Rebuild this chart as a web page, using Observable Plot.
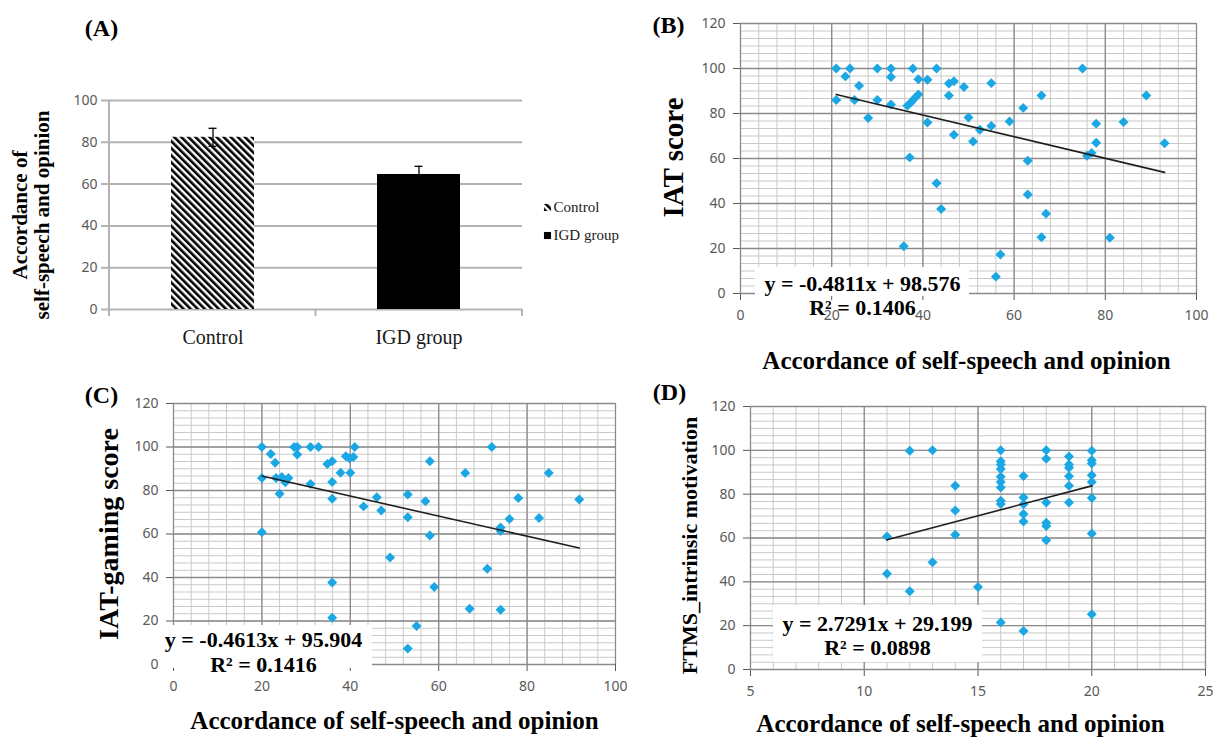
<!DOCTYPE html>
<html>
<head>
<meta charset="utf-8">
<script src="https://cdn.jsdelivr.net/npm/d3@7"></script>
<script src="https://cdn.jsdelivr.net/npm/@observablehq/plot@0.6"></script>
<style>
  html, body { margin: 0; padding: 0; background: #fff; }
  #wrap { position: relative; width: 1219px; height: 740px; overflow: hidden; background: #fff; }
  .panel { position: absolute; }
  .panel svg { display: block; overflow: visible; background: transparent; max-width: none; }
</style>
</head>
<body>
<div id="wrap"></div>
<script>
// ---------------- Panel A : bar chart ----------------
const groups = ["Control", "IGD group"];
const groupMeans = [82.4, 64.6];
const groupErrors = [4.3, 3.9];
const axisTicksA = [0, 20, 40, 60, 80, 100];

// ---------------- Panel B : IAT score ----------------
const bX = [21,21,23,24,25,26,28,30,30,33,33,33,35.8,37.1,36.6,37.4,38.2,39,37.8,39,41,41,43,43,44,45.7,45.7,46.8,46.8,49,50,51,52.5,55,55,56,57,59,62,63,63,66,66,67,75,76,77,78,78,81,84,89,93];
const bY = [100,86,96.5,100,86,92.3,78,100,86,100,96.2,84,21,60.5,83.5,85,86.8,88.5,100,95.2,95,76,49,100,37.6,93.3,88,94.3,70.6,91.8,78.2,67.6,72.8,93.5,74.5,7.5,17.3,76.5,82.5,59,44,88,25,35.5,100,61.2,62.5,75.5,67,24.8,76.2,88,66.8];
const bFit = {slope: -0.4811, intercept: 98.576, r2: 0.1406};

// ---------------- Panel C : IAT-gaming score ----------------
const cX = [20,20,20,22,23,23.2,24,24.5,25.3,26,27.3,28,28,31,31,32.8,34.8,35.9,35.9,35.9,35.9,35.9,37.8,39,39.8,40,40.7,41,43,46,47,49,53,53,53,55,57,58,58,59,66,67,71,72,74,74,74,76,78,82.7,84.9,91.8];
const cY = [100,85.8,60.8,96.8,92.8,85.8,78.5,86.2,83.8,85.8,100,100,96.6,100,83,100,92.2,93.4,83.9,76.2,37.7,21.5,88.2,95.8,94.8,88.2,95.4,100,72.7,76.9,70.8,49.2,78.2,67.7,7.3,17.7,75.1,93.4,59.3,35.6,88,25.6,44,100,63,61.4,25.2,66.9,76.5,67.4,88,75.9];
const cFit = {slope: -0.4613, intercept: 95.904, r2: 0.1416};

// ---------------- Panel D : FTMS intrinsic motivation ----------------
const dX = [11,11,12,12,13,13,14,14,14,15,16,16,16,16,16,16,16,16,16,16,17,17,17,17,17,17,18,18,18,18,18,18,19,19,19,19,19,19,20,20,20,20,20,20,20,20];
const dY = [60.7,43.7,99.8,35.7,100,48.9,83.8,72.5,61.5,37.6,100,95,93.5,91.5,88,85.5,83,77,75.5,21.5,88.3,78.5,75.4,71,67.5,17.6,100,96.2,76.2,67,65.5,59,97.2,93.5,92,88.2,83.8,76.2,99.8,95.5,94,88.6,85.6,78.2,62.1,25.2];
const dFit = {slope: 2.7291, intercept: 29.199, r2: 0.0898};

const xTitle = "Accordance of self-speech and opinion";
const yTicksScatter = [0, 20, 40, 60, 80, 100, 120];

// ---------------- styling ----------------
const SERIF = "'Liberation Serif','Times New Roman',serif";
const SANS = "'Noto Sans','Liberation Sans',Arial,sans-serif";
const DOT = "#1ba7e4";
const MINOR = "#c9c9c9";
const MAJOR = "#8a8a8a";
const TICKCOL = "#595959";
const CENTER = {textAnchor: "middle", lineAnchor: "middle"};

const wrap = document.getElementById("wrap");
function place(svg, left, top) {
  const d = document.createElement("div");
  d.className = "panel";
  d.style.left = left + "px";
  d.style.top = top + "px";
  d.appendChild(svg);
  wrap.appendChild(d);
}

// ---------------- Panel A ----------------
(function () {
  const W = 620, H = 370;
  const m = {left: 109, right: 98, top: 100, bottom: 61};
  const step = (W - m.left - m.right) / groups.length;
  const bars = groups.map((g, i) => ({group: g, mean: groupMeans[i], err: groupErrors[i]}));
  const defs = () => {
    const d = d3.create("svg:defs");
    const p = d.append("pattern").attr("id", "hatchA").attr("patternUnits", "userSpaceOnUse")
      .attr("width", 5).attr("height", 5).attr("patternTransform", "rotate(-45)");
    p.append("rect").attr("width", 5).attr("height", 5).attr("fill", "white");
    p.append("rect").attr("width", 2.6).attr("height", 5).attr("fill", "black");
    return d.node();
  };
  const axisBits = () => {
    const g = d3.create("svg:g").attr("stroke", "#b3b3b3").attr("stroke-width", 2);
    g.append("line").attr("x1", m.left).attr("x2", m.left).attr("y1", m.top).attr("y2", H - m.bottom + 7);
    for (let i = 1; i <= groups.length; i++) {
      const x = m.left + i * step;
      g.append("line").attr("x1", x).attr("x2", x).attr("y1", H - m.bottom).attr("y2", H - m.bottom + 7);
    }
    return g.node();
  };
  const svg = Plot.plot({
    width: W, height: H,
    marginLeft: m.left, marginRight: m.right, marginTop: m.top, marginBottom: m.bottom,
    style: {fontFamily: SANS, fontSize: "14px", color: TICKCOL, background: "transparent", overflow: "visible"},
    x: {domain: groups, paddingInner: 0.598, paddingOuter: 0.299, axis: null},
    y: {domain: [0, 100], ticks: 5, tickSize: 0, tickPadding: 12, label: null},
    marks: [
      defs,
      Plot.ruleY(axisTicksA, {stroke: "#b3b3b3", strokeWidth: 2, insetLeft: -8}),
      axisBits,
      Plot.barY(bars.filter(d => d.group === groups[0]), {x: "group", y: "mean", fill: "url(#hatchA)"}),
      Plot.barY(bars.filter(d => d.group === groups[1]), {x: "group", y: "mean", fill: "black"}),
      Plot.ruleX(bars, {x: "group", y1: d => d.mean - d.err, y2: d => d.mean + d.err, stroke: "black", strokeWidth: 1.3}),
      Plot.tickY(bars, {x: "group", y: d => d.mean + d.err, stroke: "black", strokeWidth: 1.3, insetLeft: 37.5, insetRight: 37.5}),
      Plot.tickY(bars, {x: "group", y: d => d.mean - d.err, stroke: "black", strokeWidth: 1.3, insetLeft: 37.5, insetRight: 37.5}),
      Plot.text(groups, {x: d => d, text: d => d, frameAnchor: "bottom", dy: 28, ...CENTER, fontFamily: SERIF, fontSize: 20, fill: "#1a1a1a"}),
      Plot.text(["(A)"], {text: d => d, frameAnchor: "top-left", dx: -8, dy: -72, ...CENTER, fontFamily: SERIF, fontWeight: "bold", fontSize: 24, fill: "black"}),
      Plot.text(["Accordance of\nself-speech and opinion"], {text: d => d, frameAnchor: "left", dx: -79, dy: 10, rotate: -90, ...CENTER, lineHeight: 1.05, fontFamily: SERIF, fontWeight: "bold", fontSize: 21, fill: "black"}),
      Plot.dot([groups[0]], {frameAnchor: "right", dx: 25, dy: 2.5, symbol: "square", r: 4, fill: "url(#hatchA)"}),
      Plot.dot([groups[1]], {frameAnchor: "right", dx: 25, dy: 30.5, symbol: "square", r: 4, fill: "black"}),
      Plot.text([groups[0]], {text: d => d, frameAnchor: "right", dx: 31, dy: 2.5, textAnchor: "start", lineAnchor: "middle", fontFamily: SERIF, fontSize: 15, fill: "#1a1a1a"}),
      Plot.text([groups[1]], {text: d => d, frameAnchor: "right", dx: 31, dy: 30.5, textAnchor: "start", lineAnchor: "middle", fontFamily: SERIF, fontSize: 15, fill: "#1a1a1a"})
    ]
  });
  place(svg, 0, 0);
})();

// ---------------- Scatter panels ----------------
function scatterPanel(cfg) {
  const m = cfg.margin;
  const pts = cfg.xs.map((x, i) => ({x, y: cfg.ys[i]}));
  const [xa, xb] = d3.extent(cfg.xs);
  const trend = [xa, xb].map(x => ({x, y: cfg.fit.slope * x + cfg.fit.intercept}));
  const xMinor = d3.range(cfg.xDomain[0], cfg.xDomain[1] + 1e-9, cfg.xMinorStep);
  const yMinor = d3.range(0, 120 + 1e-9, 20 / 6);
  const eq = `y = ${cfg.fit.slope}x + ${cfg.fit.intercept}\nR² = ${cfg.fit.r2}`;
  const box = () => d3.create("svg:rect")
    .attr("x", m.left + cfg.box.x).attr("y", cfg.height - m.bottom + cfg.box.y)
    .attr("width", cfg.box.w).attr("height", cfg.box.h).attr("fill", "white").node();
  const svg = Plot.plot({
    width: cfg.width, height: cfg.height,
    marginLeft: m.left, marginRight: m.right, marginTop: m.top, marginBottom: m.bottom,
    style: {fontFamily: SANS, fontSize: "14px", color: TICKCOL, background: "transparent", overflow: "visible"},
    x: {domain: cfg.xDomain, ticks: cfg.xTickCount, tickSize: 7, tickPadding: 10, label: null},
    y: {domain: [0, 120], ticks: 6, tickSize: 7, tickPadding: 8, label: null},
    marks: [
      Plot.ruleX(xMinor, {stroke: MINOR, strokeWidth: 1}),
      Plot.ruleY(yMinor, {stroke: MINOR, strokeWidth: 1}),
      Plot.ruleX(cfg.xMajor, {stroke: MAJOR, strokeWidth: 1.3}),
      Plot.ruleY(yTicksScatter, {stroke: MAJOR, strokeWidth: 1.3}),
      Plot.dot(pts, {x: "x", y: "y", symbol: "diamond2", r: 4.5, fill: DOT}),
      Plot.line(trend, {x: "x", y: "y", stroke: "#1f1f1f", strokeWidth: 1.6}),
      box,
      Plot.text([eq], {text: d => d, frameAnchor: "bottom-left", dx: cfg.eq.dx, dy: cfg.eq.dy, ...CENTER, lineHeight: cfg.eq.lh, fontFamily: SERIF, fontWeight: "bold", fontSize: 22, fill: "black"}),
      Plot.text([cfg.tag], {text: d => d, frameAnchor: "top-left", dx: cfg.tagPos.dx, dy: cfg.tagPos.dy, ...CENTER, fontFamily: SERIF, fontWeight: "bold", fontSize: 24, fill: "black"}),
      Plot.text([cfg.yTitle], {text: d => d, frameAnchor: "left", dx: cfg.yTitlePos.dx, dy: cfg.yTitlePos.dy, rotate: -90, ...CENTER, fontFamily: SERIF, fontWeight: "bold", fontSize: cfg.yTitlePos.size, fill: "black"}),
      Plot.text([xTitle], {text: d => d, frameAnchor: "bottom", dx: cfg.xTitlePos.dx, dy: cfg.xTitlePos.dy, ...CENTER, fontFamily: SERIF, fontWeight: "bold", fontSize: 25, fill: "black"})
    ]
  });
  place(svg, cfg.left, cfg.top);
}

scatterPanel({
  left: 620, top: 0, width: 599, height: 370,
  margin: {left: 120, right: 23, top: 23, bottom: 77},
  xs: bX, ys: bY, fit: bFit,
  xDomain: [0, 100], xTickCount: 5, xMinorStep: 4, xMajor: [0, 20, 40, 60, 80, 100],
  box: {x: 15, y: -26, w: 214, h: 29},
  eq: {dx: 122, dy: 2, lh: 1.09},
  tag: "(B)", tagPos: {dx: -72, dy: 2},
  yTitle: "IAT score", yTitlePos: {dx: -67, dy: -1, size: 29},
  xTitlePos: {dx: -2, dy: 67}
});

scatterPanel({
  left: 0, top: 370, width: 640, height: 370,
  margin: {left: 173, right: 25, top: 33, bottom: 76},
  xs: cX, ys: cY, fit: cFit,
  xDomain: [0, 100], xTickCount: 5, xMinorStep: 4, xMajor: [0, 20, 40, 60, 80, 100],
  box: {x: -13, y: -39, w: 212, h: 43},
  eq: {dx: 90, dy: -13, lh: 1.15},
  tag: "(C)", tagPos: {dx: -72, dy: -8},
  yTitle: "IAT-gaming score", yTitlePos: {dx: -64, dy: 0, size: 28},
  xTitlePos: {dx: 0, dy: 56}
});

scatterPanel({
  left: 620, top: 370, width: 599, height: 370,
  margin: {left: 130, right: 14, top: 36, bottom: 71},
  xs: dX, ys: dY, fit: dFit,
  xDomain: [5, 25], xTickCount: 4, xMinorStep: 1, xMajor: [5, 10, 15, 20, 25],
  box: {x: 23, y: -64, w: 209, h: 57},
  eq: {dx: 127, dy: -34, lh: 1.09},
  tag: "(D)", tagPos: {dx: -81, dy: -14},
  yTitle: "FTMS_intrinsic motivation", yTitlePos: {dx: -61, dy: 7.5, size: 22},
  xTitlePos: {dx: -17.5, dy: 54}
});
</script>
</body>
</html>
